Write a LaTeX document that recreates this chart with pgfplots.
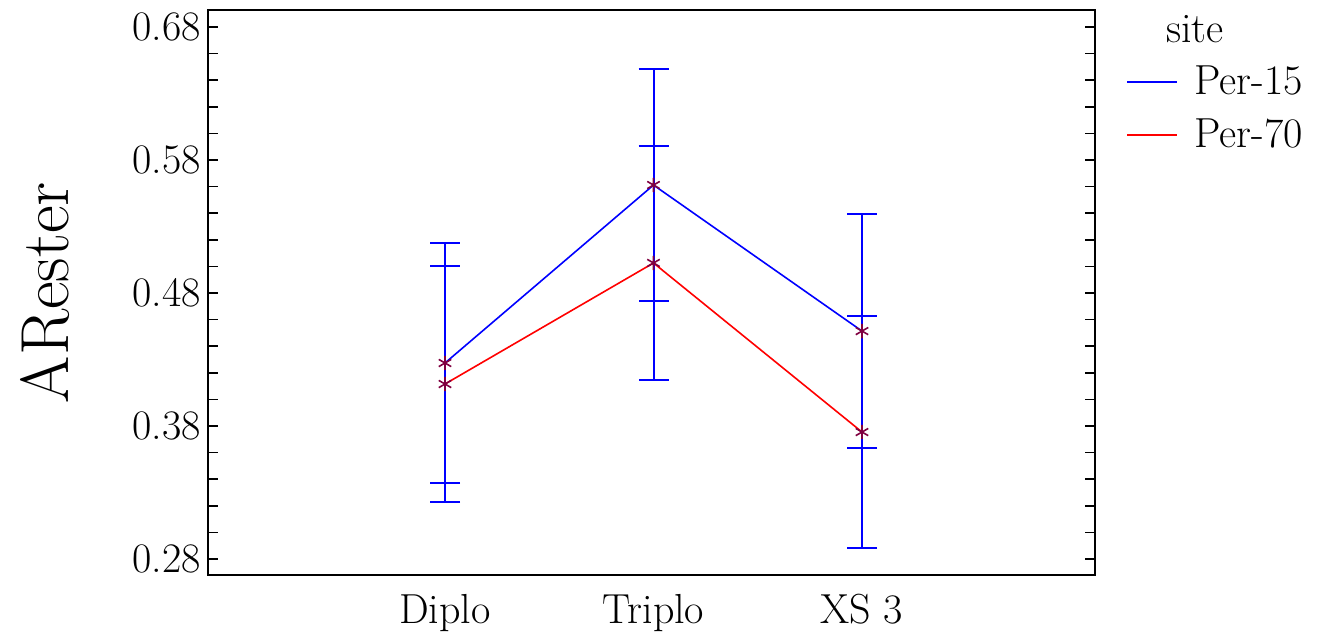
\documentclass[border=0pt]{standalone}
\usepackage{pgfplots}
\pgfplotsset{compat=1.18}
\usepackage{pgfplotstable}
\definecolor{markpurple}{RGB}{128,0,64}
\definecolor{errblue}{RGB}{0,0,255}

\pgfplotstableread{
x y e
1 0.4274 0.0903
2 0.5612 0.0872
3 0.4514 0.0880
}\perfifteen
\pgfplotstableread{
x y e
1 0.4116 0.0887
2 0.5026 0.0879
3 0.3755 0.0872
}\perseventy

\begin{document}
\begin{tikzpicture}
\begin{axis}[
  name=ax,
  scale only axis,
  width=443.5pt, height=282.5pt,
  xmin=-0.1367, xmax=4.1175,
  ymin=0.268, ymax=0.6928,
  xtick={1,2,3},
  xticklabels={Diplo,Triplo,XS 3},
  x tick style={draw=none},
  ytick={0.28,0.38,0.48,0.58,0.68},
  minor y tick num=4,
  ytick pos=both,
  tick align=inside,
  major tick length=5pt,
  minor tick length=5pt,
  tick style={black, line width=0.8pt},
  axis line style={line width=0.9pt},
  /pgf/number format/assume math mode=true,
  yticklabel style={/pgf/number format/fixed, /pgf/number format/fixed zerofill, /pgf/number format/precision=2},
  tick label style={font=\fontsize{21}{25}\selectfont},
  xticklabel style={yshift=-6pt},
  ylabel={ARester},
  ylabel style={font=\fontsize{34}{40}\selectfont, at={(axis description cs:-0.184,0.5)}, anchor=center},
  legend style={draw=none, fill=none, at={(axis description cs:1.028,1.006)}, anchor=north west,
    font=\fontsize{21}{25}\selectfont, row sep=6.5pt,
    /tikz/every odd column/.append style={column sep=6pt}},
  legend cell align=left,
  legend image code/.code={\draw[#1] (0pt,0pt) -- (25pt,0pt); \draw[#1] (0pt,0pt) -- (25pt,0pt);},
  clip=false,
]
\addplot[errblue, line width=1pt, draw=none, mark=none, forget plot,
  error bars/.cd, y dir=both, y explicit, error mark=|,
  error bar style={errblue, solid, line width=1pt},
  error mark options={errblue, solid, mark size=7.5pt, line width=1pt}]
  table[x=x, y=y, y error=e] {\perfifteen};
\addplot[errblue, line width=1pt, draw=none, mark=none, forget plot,
  error bars/.cd, y dir=both, y explicit, error mark=|,
  error bar style={errblue, solid, line width=1pt},
  error mark options={errblue, solid, mark size=7.5pt, line width=1pt}]
  table[x=x, y=y, y error=e] {\perseventy};
\addplot[blue, line width=0.8pt, mark=asterisk, mark size=3.6pt, forget plot,
  mark options={markpurple, line width=0.8pt}]
  table[x=x, y=y] {\perfifteen};
\addplot[red, line width=0.8pt, mark=asterisk, mark size=3.6pt, forget plot,
  mark options={markpurple, line width=0.8pt}]
  table[x=x, y=y] {\perseventy};
\addlegendimage{empty legend}
\addlegendentry{\hspace*{-14pt}site}
\addlegendimage{draw=errblue, color=errblue, line width=1pt}
\addlegendentry{Per-15}
\addlegendimage{draw=red, color=red, line width=1pt}
\addlegendentry{Per-70}
\end{axis}
\pgfresetboundingbox
\useasboundingbox ([xshift=-104pt, yshift=-30pt]ax.south west) rectangle ([xshift=112pt, yshift=5pt]ax.north east);
\end{tikzpicture}
\end{document}
